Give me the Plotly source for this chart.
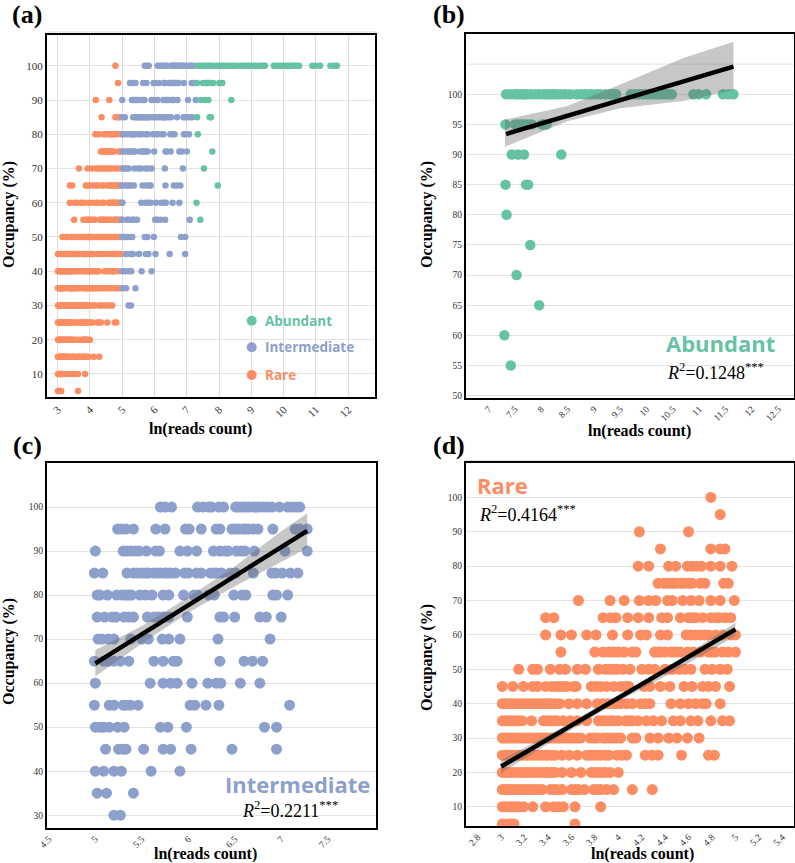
import plotly.graph_objects as go

GREEN, BLUE, ORANGE = "#66C2A5", "#8DA0CB", "#FC8D62"

abundant_100 = [7.33,7.41,7.50,7.56,7.63,7.68,7.72,7.80,7.88,7.96,8.04,8.11,8.17,8.23,8.29,8.37,8.45,8.55,8.67,8.75,8.83,8.91,8.96,9.05,9.12,9.22,9.31,9.37,9.42,9.70,9.78,9.86,9.94,10.02,10.10,10.16,10.23,10.29,10.35,10.42,10.48,10.89,10.99,11.13,11.45,11.56,11.65]
abundant_95 = [7.32,7.50,7.55,7.60,7.65,7.69,7.75,7.82,8.01,8.05,8.10]
abundant_90 = [7.44,7.56,7.67,8.38]
abundant_85 = [7.32,7.71,7.75]
abundant_80 = [7.34]
abundant_75 = [7.79]
abundant_70 = [7.53]
abundant_65 = [7.96]
abundant_60 = [7.30]
abundant_55 = [7.42]
abundant_rows = {100:abundant_100,95:abundant_95,90:abundant_90,85:abundant_85,80:abundant_80,75:abundant_75,70:abundant_70,65:abundant_65,60:abundant_60,55:abundant_55}

inter_100 = [5.70,5.75,5.82,6.10,6.16,6.22,6.25,6.33,6.38,6.51,6.54,6.58,6.61,6.65,6.70,6.73,6.76,6.81,6.85,6.90,6.98,7.07,7.11,7.16,7.20]
inter_95 = [5.24,5.28,5.33,5.41,5.65,5.75,5.97,6.01,6.14,6.30,6.34,6.47,6.51,6.54,6.59,6.62,6.65,6.70,6.75,6.91,7.15,7.20,7.28]
inter_90 = [5.00,5.30,5.34,5.38,5.43,5.47,5.55,5.65,5.69,5.91,5.99,6.09,6.27,6.34,6.40,6.43,6.52,6.57,6.61,6.71,7.04,7.28]
inter_85 = [4.99,5.08,5.34,5.41,5.45,5.50,5.54,5.57,5.63,5.67,5.70,5.75,5.78,5.81,5.86,5.96,6.00,6.09,6.14,6.24,6.28,6.31,6.36,6.45,6.51,6.70,6.90,6.94,7.01,7.10,7.18]
inter_80 = [5.02,5.05,5.13,5.23,5.29,5.33,5.36,5.39,5.48,5.54,5.61,5.73,5.79,5.95,6.06,6.10,6.22,6.28,6.49,6.58,6.62,6.91,6.95,7.07]
inter_75 = [5.02,5.10,5.18,5.22,5.31,5.36,5.41,5.56,5.63,5.68,5.73,5.79,5.99,6.34,6.38,6.50,6.77,6.84,7.00]
inter_70 = [5.03,5.07,5.14,5.20,5.38,5.50,5.57,5.72,5.79,5.91,6.32,6.88]
inter_65 = [4.99,5.09,5.14,5.20,5.27,5.36,5.63,5.73,5.84,5.88,6.34,6.60,6.69,6.80]
inter_60 = [5.00,5.59,5.73,5.81,5.88,6.04,6.21,6.30,6.35,6.56,6.77]
inter_55 = [4.99,5.15,5.20,5.30,5.33,5.38,5.46,6.02,6.07,6.19,6.33,7.09]
inter_50 = [5.00,5.05,5.09,5.15,5.24,5.31,5.70,5.78,5.98,6.82,6.95]
inter_45 = [5.11,5.25,5.30,5.33,5.52,5.73,5.81,6.03,6.47,6.95]
inter_40 = [5.00,5.09,5.20,5.28,5.60,5.91]
inter_35 = [5.02,5.12,5.41]
inter_30 = [5.20,5.27]
inter_rows = {100:inter_100,95:inter_95,90:inter_90,85:inter_85,80:inter_80,75:inter_75,70:inter_70,65:inter_65,60:inter_60,55:inter_55,50:inter_50,45:inter_45,40:inter_40,35:inter_35,30:inter_30}

rare_100 = [4.79]
rare_95 = [4.87]
rare_90 = [4.18,4.60]
rare_85 = [4.36,4.79,4.87,4.91]
rare_80 = [4.17,4.26,4.43,4.49,4.59,4.63,4.67,4.71,4.79,4.87,4.97]
rare_75 = [4.34,4.39,4.43,4.46,4.49,4.53,4.56,4.60,4.63,4.70,4.74,4.90,4.94]
rare_70 = [3.66,3.93,4.05,4.18,4.26,4.32,4.42,4.46,4.55,4.62,4.69,4.79,4.87,4.99]
rare_65 = [3.38,3.45,3.87,3.93,3.98,4.08,4.17,4.26,4.37,4.42,4.53,4.60,4.63,4.66,4.72,4.79,4.83,4.86,4.91,4.96]
rare_60 = [3.38,3.51,3.60,3.73,3.81,3.95,4.08,4.19,4.24,4.36,4.42,4.58,4.62,4.66,4.70,4.74,4.77,4.83,4.89,4.96,5.00]
rare_55 = [3.51,3.80,3.87,3.92,3.96,4.00,4.05,4.12,4.15,4.31,4.34,4.36,4.40,4.45,4.49,4.53,4.59,4.64,4.70,4.77,4.80,4.83,4.89,4.94,5.00]
rare_50 = [3.15,3.27,3.31,3.42,3.50,3.55,3.65,3.72,3.83,3.89,3.93,3.96,3.99,4.04,4.10,4.20,4.26,4.31,4.40,4.46,4.52,4.57,4.62,4.74,4.80,4.87,4.93]
rare_45 = [3.01,3.10,3.19,3.27,3.31,3.38,3.43,3.47,3.50,3.53,3.56,3.62,3.64,3.77,3.81,3.85,3.90,3.96,4.02,4.06,4.09,4.22,4.27,4.36,4.44,4.56,4.63,4.72,4.77,4.83,4.95]
rare_40 = [3.01,3.04,3.06,3.09,3.12,3.15,3.17,3.20,3.23,3.26,3.29,3.32,3.35,3.38,3.40,3.43,3.46,3.50,3.58,3.65,3.73,3.82,3.87,3.91,3.95,3.98,4.02,4.07,4.12,4.19,4.23,4.27,4.45,4.53,4.60,4.66,4.72,4.75,4.87]
rare_35 = [3.01,3.04,3.06,3.09,3.12,3.15,3.18,3.26,3.36,3.39,3.42,3.45,3.48,3.53,3.59,3.65,3.73,3.83,3.86,3.89,3.93,3.96,4.00,4.06,4.09,4.12,4.17,4.24,4.30,4.37,4.47,4.53,4.62,4.68,4.79,4.89,4.95]
rare_30 = [3.01,3.03,3.05,3.08,3.11,3.14,3.16,3.19,3.22,3.25,3.28,3.31,3.33,3.36,3.39,3.42,3.45,3.48,3.50,3.53,3.56,3.59,3.62,3.65,3.68,3.76,3.79,3.82,3.87,3.90,3.93,3.96,3.99,4.02,4.12,4.15,4.27,4.34,4.43,4.50,4.59,4.69]
rare_25 = [3.01,3.04,3.06,3.09,3.12,3.15,3.18,3.21,3.23,3.26,3.29,3.32,3.35,3.38,3.40,3.43,3.46,3.52,3.58,3.65,3.73,3.76,3.79,3.82,3.85,3.89,3.92,3.99,4.03,4.07,4.23,4.29,4.34,4.54,4.77,4.82]
rare_20 = [3.01,3.04,3.06,3.09,3.12,3.15,3.18,3.21,3.23,3.26,3.29,3.32,3.35,3.38,3.40,3.43,3.46,3.52,3.60,3.68,3.77,3.80,3.83,3.86,3.89,3.93,4.00]
rare_15 = [3.01,3.04,3.06,3.09,3.12,3.15,3.18,3.21,3.23,3.26,3.29,3.32,3.35,3.42,3.45,3.48,3.52,3.60,3.63,3.66,3.71,3.79,3.82,3.85,3.90,3.96,4.12,4.29]
rare_10 = [3.01,3.04,3.06,3.09,3.12,3.15,3.19,3.27,3.38,3.45,3.49,3.53,3.63,3.85]
rare_5 = [3.01,3.05,3.08,3.11,3.63]
rare_rows = {100:rare_100,95:rare_95,90:rare_90,85:rare_85,80:rare_80,75:rare_75,70:rare_70,65:rare_65,60:rare_60,55:rare_55,50:rare_50,45:rare_45,40:rare_40,35:rare_35,30:rare_30,25:rare_25,20:rare_20,15:rare_15,10:rare_10,5:rare_5}

fit_b_x = [7.33, 11.65]
fit_b_y = [93.4, 104.6]
band_b_x = [7.31, 8.48, 9.50, 10.70, 11.65]
band_b_hi = [95.8, 98.0, 101.6, 106.0, 108.7]
band_b_lo = [91.3, 95.5, 97.7, 98.9, 100.7]

fit_c_x = [5.0, 7.28]
fit_c_y = [64.5, 94.6]
band_c_x = [5.0, 5.5, 6.0, 6.5, 7.0, 7.28]
band_c_hi = [67.5, 73.0, 79.5, 86.5, 94.5, 98.6]
band_c_lo = [61.5, 69.0, 76.0, 82.0, 87.5, 90.7]

fit_d_x = [3.0, 5.0]
fit_d_y = [21.7, 61.6]
band_d_x = [3.0, 3.5, 4.0, 4.5, 5.0]
band_d_hi = [23.6, 32.6, 42.5, 52.5, 63.5]
band_d_lo = [19.8, 30.4, 40.6, 49.8, 59.7]

ticks_a_x = [3,4,5,6,7,8,9,10,11,12]
ticks_a_y = [10,20,30,40,50,60,70,80,90,100]
ticks_b_x = [7,7.5,8,8.5,9,9.5,10,10.5,11,11.5,12,12.5]
ticks_b_y = [50,55,60,65,70,75,80,85,90,95,100]
extra_grid_b_y = 105
ticks_c_x = [4.5,5,5.5,6,6.5,7,7.5]
ticks_c_y = [30,40,50,60,70,80,90,100]
ticks_d_x = [2.8,3,3.2,3.4,3.6,3.8,4,4.2,4.4,4.6,4.8,5,5.2,5.4]
ticks_d_y = [10,20,30,40,50,60,70,80,90,100]

W, H = 795, 863
SERIF = "Liberation Serif"
SANS = "Open Sans"

def px(x): return x / W
def py(y): return 1 - y / H

fig = go.Figure()

panels = {
    "a": dict(box=(47, 375, 35, 397), xr=(2.67, 12.83), yr=(3.25, 109), xt=ticks_a_x, yt=ticks_a_y, fs=11, grid=True),
    "b": dict(box=(466, 794, 34, 398), xr=(6.57, 12.80), yr=(49.6, 110), xt=ticks_b_x, yt=ticks_b_y, fs=9.5, grid=False),
    "c": dict(box=(47, 376, 463, 828), xr=(4.48, 8.02), yr=(27.1, 110), xt=ticks_c_x, yt=ticks_c_y, fs=9.5, grid=False),
    "d": dict(box=(466, 794, 463, 826), xr=(2.70, 5.50), yr=(4.4, 110), xt=ticks_d_x, yt=ticks_d_y, fs=9.5, grid=False),
}
axis_id = {"a": "", "b": "2", "c": "3", "d": "4"}
layout = {}
for key, p in panels.items():
    l, r, t, b = p["box"]
    n = axis_id[key]
    layout["xaxis" + n] = dict(
        domain=[px(l), px(r)], range=list(p["xr"]), tickmode="array", tickvals=p["xt"],
        ticktext=[str(v) for v in p["xt"]], tickangle=-45, showgrid=p["grid"], gridcolor="#DCDCDC", gridwidth=1,
        zeroline=False, showline=True, mirror=True, linecolor="black", linewidth=2, ticks="",
        tickfont=dict(family=SERIF, size=p["fs"], color="#333"), anchor="y" + n, automargin=False)
    layout["yaxis" + n] = dict(
        domain=[py(b), py(t)], range=list(p["yr"]), tickmode="array", tickvals=p["yt"],
        ticktext=[str(v) for v in p["yt"]], showgrid=True, gridcolor="#E2E2E2", gridwidth=1,
        zeroline=False, showline=True, mirror=True, linecolor="black", linewidth=2, ticks="",
        tickfont=dict(family=SERIF, size=p["fs"], color="#333"), anchor="x" + n, automargin=False)


def points(rows, color, size, key):
    n = axis_id[key]
    xs, ys = [], []
    for occ, vals in rows.items():
        xs += vals
        ys += [occ] * len(vals)
    fig.add_trace(go.Scatter(x=xs, y=ys, mode="markers", marker=dict(color=color, size=size, line=dict(width=0)),
                             xaxis="x" + n, yaxis="y" + n, showlegend=False, cliponaxis=True))


def fit(xs, ys, bx, hi, lo, key):
    n = axis_id[key]
    fig.add_trace(go.Scatter(x=bx + bx[::-1], y=hi + lo[::-1], mode="lines", fill="toself", line=dict(width=0),
                             fillcolor="rgba(100,100,100,0.36)", xaxis="x" + n, yaxis="y" + n, showlegend=False))
    fig.add_trace(go.Scatter(x=xs, y=ys, mode="lines", line=dict(color="black", width=4.5),
                             xaxis="x" + n, yaxis="y" + n, showlegend=False))


points(rare_rows, ORANGE, 6.5, "a")
points(inter_rows, BLUE, 6.5, "a")
points(abundant_rows, GREEN, 6.5, "a")
points(abundant_rows, GREEN, 10.5, "b")
fit(fit_b_x, fit_b_y, band_b_x, band_b_hi, band_b_lo, "b")
points(inter_rows, BLUE, 11, "c")
fit(fit_c_x, fit_c_y, band_c_x, band_c_hi, band_c_lo, "c")
points(rare_rows, ORANGE, 11, "d")
fit(fit_d_x, fit_d_y, band_d_x, band_d_hi, band_d_lo, "d")

ann = []


def text(x, y, s, size, family=SERIF, color="black", angle=0, weight=None):
    ann.append(dict(x=px(x), y=py(y), xref="paper", yref="paper", text=s, showarrow=False, textangle=angle,
                    xanchor="center", yanchor="middle",
                    font=dict(family=family, size=size, color=color, **({"weight": weight} if weight else {}))))


for s, x, y in [("(a)", 27, 14), ("(b)", 449, 14), ("(c)", 27, 445), ("(d)", 449, 445)]:
    text(x, y, f"<b>{s}</b>", 26)
for x, y in [(200.7, 429.3), (639, 430.7), (205, 854), (642.7, 854)]:
    text(x, y, "<b>ln(reads count)</b>", 16)
for x, y in [(9, 215), (427, 215), (9, 652), (427, 658)]:
    text(x, y, "<b>Occupancy (%)</b>", 16, angle=-90)

r2 = "<i>R</i><sup>2</sup>=%s<sup>***</sup>"
text(720, 342.7, "Abundant", 22, SANS, GREEN, weight=700)
text(715, 371.7, r2 % "0.1248", 18)
text(297, 784, "Intermediate", 22, SANS, BLUE, weight=700)
text(290, 809, r2 % "0.2211", 18)
text(502, 485, "Rare", 22, SANS, ORANGE, weight=700)
text(527, 513, r2 % "0.4164", 18)

shapes = [dict(type="line", xref="x2 domain", yref="y2", x0=0, x1=1, y0=extra_grid_b_y, y1=extra_grid_b_y,
               layer="below", line=dict(color="#E2E2E2", width=1)),
          dict(type="line", xref="paper", yref="paper", x0=px(47), x1=px(376), y0=py(32), y1=py(32),
               line=dict(color="#DDDDDD", width=1)),
          dict(type="line", xref="paper", yref="paper", x0=px(466), x1=px(794), y0=py(460.5), y1=py(460.5),
               line=dict(color="#DDDDDD", width=1))]
for label, color, y in [("Abundant", GREEN, 320.7), ("Intermediate", BLUE, 347.3), ("Rare", ORANGE, 375)]:
    cx, rad = 251.7, 5
    shapes.append(dict(type="circle", xref="paper", yref="paper", x0=px(cx - rad), x1=px(cx + rad),
                       y0=py(y + rad), y1=py(y - rad), fillcolor=color, line=dict(width=0)))
    ann.append(dict(x=px(262.5), y=py(y), xref="paper", yref="paper", text=label, showarrow=False, xanchor="left",
                    yanchor="middle", font=dict(family=SANS, size=13.5, color=color, weight=700)))

fig.update_layout(width=W, height=H, autosize=False, margin=dict(l=0, r=0, t=0, b=0),
                  paper_bgcolor="white", plot_bgcolor="white", annotations=ann, shapes=shapes, **layout)
fig.write_html("out.html", config={"displayModeBar": False},
               post_script="document.body.style.margin='0';document.documentElement.style.overflow='hidden';")
